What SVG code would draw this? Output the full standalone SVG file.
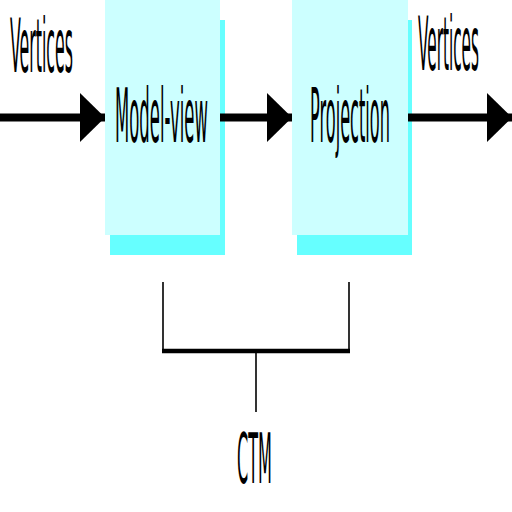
<svg xmlns="http://www.w3.org/2000/svg" width="512" height="512" viewBox="0 0 512 512">
<style>
.front{fill:#ccffff}
.shadow{fill:#66ffff}
.lbl{font-family:"DejaVu Sans",sans-serif;font-size:74px;fill:#000}
.wire{stroke:#000;fill:none}
</style>
<defs>
<marker id="ah" viewBox="0 0 25 49" refX="25" refY="24.5" markerWidth="25" markerHeight="49" markerUnits="userSpaceOnUse" orient="auto">
<path d="M0,0 L25,24.5 L0,49 Z" fill="#000"/>
</marker>
</defs>
<rect width="512" height="512" fill="#fff"/>
<g id="modelview">
<rect class="shadow" x="110" y="20" width="115" height="235"/>
<rect class="front" x="105" y="0" width="115" height="235"/>
<text class="lbl" x="115" y="142" textLength="93" lengthAdjust="spacingAndGlyphs">Model-view</text>
</g>
<g id="projection">
<rect class="shadow" x="297" y="20" width="115" height="235"/>
<rect class="front" x="292" y="0" width="116" height="235"/>
<text class="lbl" x="310" y="142" textLength="80" lengthAdjust="spacingAndGlyphs">Projection</text>
</g>
<g id="labels">
<text class="lbl" x="10" y="72" textLength="63" lengthAdjust="spacingAndGlyphs">Vertices</text>
<text class="lbl" x="418" y="70" textLength="61" lengthAdjust="spacingAndGlyphs">Vertices</text>
<text class="lbl" x="237" y="483" style="font-size:69px" textLength="35" lengthAdjust="spacingAndGlyphs">CTM</text>
</g>
<g id="connectors">
<line class="wire" x1="0" y1="117.5" x2="105" y2="117.5" stroke-width="8" marker-end="url(#ah)"/>
<line class="wire" x1="220" y1="117.5" x2="292" y2="117.5" stroke-width="8" marker-end="url(#ah)"/>
<line class="wire" x1="408" y1="117.5" x2="512" y2="117.5" stroke-width="8" marker-end="url(#ah)"/>
<path class="wire" d="M163,282 V352 M349,282 V352" stroke-width="1.6"/>
<line class="wire" x1="162" y1="351" x2="350" y2="351" stroke-width="4.5"/>
<line class="wire" x1="256" y1="352" x2="256" y2="412" stroke-width="1.6"/>
</g>
</svg>
